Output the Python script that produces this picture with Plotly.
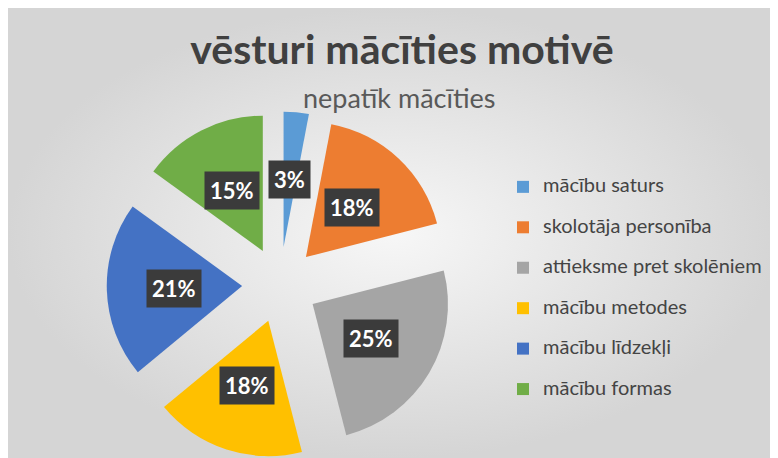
import numpy as np
import plotly.graph_objects as go

# ---- data ----
categories = ["mācību saturs", "skolotāja personība", "attieksme pret skolēniem",
              "mācību metodes", "mācību līdzekļi", "mācību formas"]
values = [3, 18, 25, 18, 21, 15]
colors = ["#5B9BD5", "#ED7D31", "#A5A5A5", "#FFC000", "#4472C4", "#70AD47"]
title_text = "vēsturi mācīties motivē"
subtitle_text = "nepatīk mācīties"

# ---- layout constants (page body adds an 8px offset) ----
W, H = 770, 450
PULL = 0.28
dom_x = [0.12825, 0.57825]
dom_y = [0.0, 0.77]
FONT = "Lato"

legend_labels = [f"<span style='font-size:20px'>{c}</span><br> " for c in categories]

fig = go.Figure()

# background radial gradient (chart area)
fig.add_trace(go.Scatter(
    x=[0, W, W, 0, 0], y=[0, 0, H, H, 0], mode="lines", fill="toself",
    line=dict(width=0),
    fillgradient=dict(type="radial", colorscale=[[0, "#f7f7f7"], [1, "#d5d5d5"]]),
    hoverinfo="skip", showlegend=False,
))

fig.add_trace(go.Pie(
    labels=legend_labels, values=values, sort=False, direction="clockwise",
    rotation=0, pull=[PULL] * len(values),
    marker=dict(colors=colors, line=dict(width=0)),
    textinfo="none", hoverinfo="skip",
    domain=dict(x=dom_x, y=dom_y),
))

# data labels in dark boxes, placed from the pie geometry
tot = sum(values)
mid = (np.cumsum(values) - np.array(values) / 2) / tot * 2 * np.pi
boxW = W * (dom_x[1] - dom_x[0])
boxH = H * (dom_y[1] - dom_y[0])
r = min(boxW, boxH) / (2 + 2 * PULL)
cx = W * (dom_x[0] + dom_x[1]) / 2
cy = H * (1 - dom_y[0]) - boxH / 2
rad = (PULL + 0.5) * r
annotations = []
for v, th in zip(values, mid):
    px = cx + rad * np.sin(th)
    py = cy - rad * np.cos(th)
    annotations.append(dict(
        x=px / W, y=1 - py / H, xref="paper", yref="paper",
        xanchor="center", yanchor="middle",
        text=f"{round(v / tot * 100)}%", showarrow=False,
        font=dict(family=FONT, size=22, color="white", weight="bold"),
        bgcolor="#3b3b3b", borderpad=5,
    ))

annotations.append(dict(
    x=392 / W, y=1 - 90 / H, xref="paper", yref="paper",
    xanchor="center", yanchor="middle", showarrow=False,
    text=subtitle_text, font=dict(family=FONT, size=27, color="#595959"),
))

fig.update_layout(
    width=W, height=H,
    margin=dict(l=0, r=0, t=0, b=0),
    paper_bgcolor="white", plot_bgcolor="rgba(0,0,0,0)",
    xaxis=dict(range=[0, W], visible=False, domain=[0, 1], fixedrange=True),
    yaxis=dict(range=[H, 0], visible=False, domain=[0, 1], fixedrange=True),
    title=dict(
        text=title_text, x=394 / W, xanchor="center", y=0.94, yref="container", yanchor="top",
        font=dict(family=FONT, size=41, color="#404040", weight="bold"),
    ),
    legend=dict(
        x=495 / W, y=1 - 163 / H, xanchor="left", yanchor="top",
        font=dict(family=FONT, size=14.4, color="#444444"),
        bgcolor="rgba(0,0,0,0)", valign="top",
    ),
    annotations=annotations,
    showlegend=True,
)

fig.write_html("out.html")
